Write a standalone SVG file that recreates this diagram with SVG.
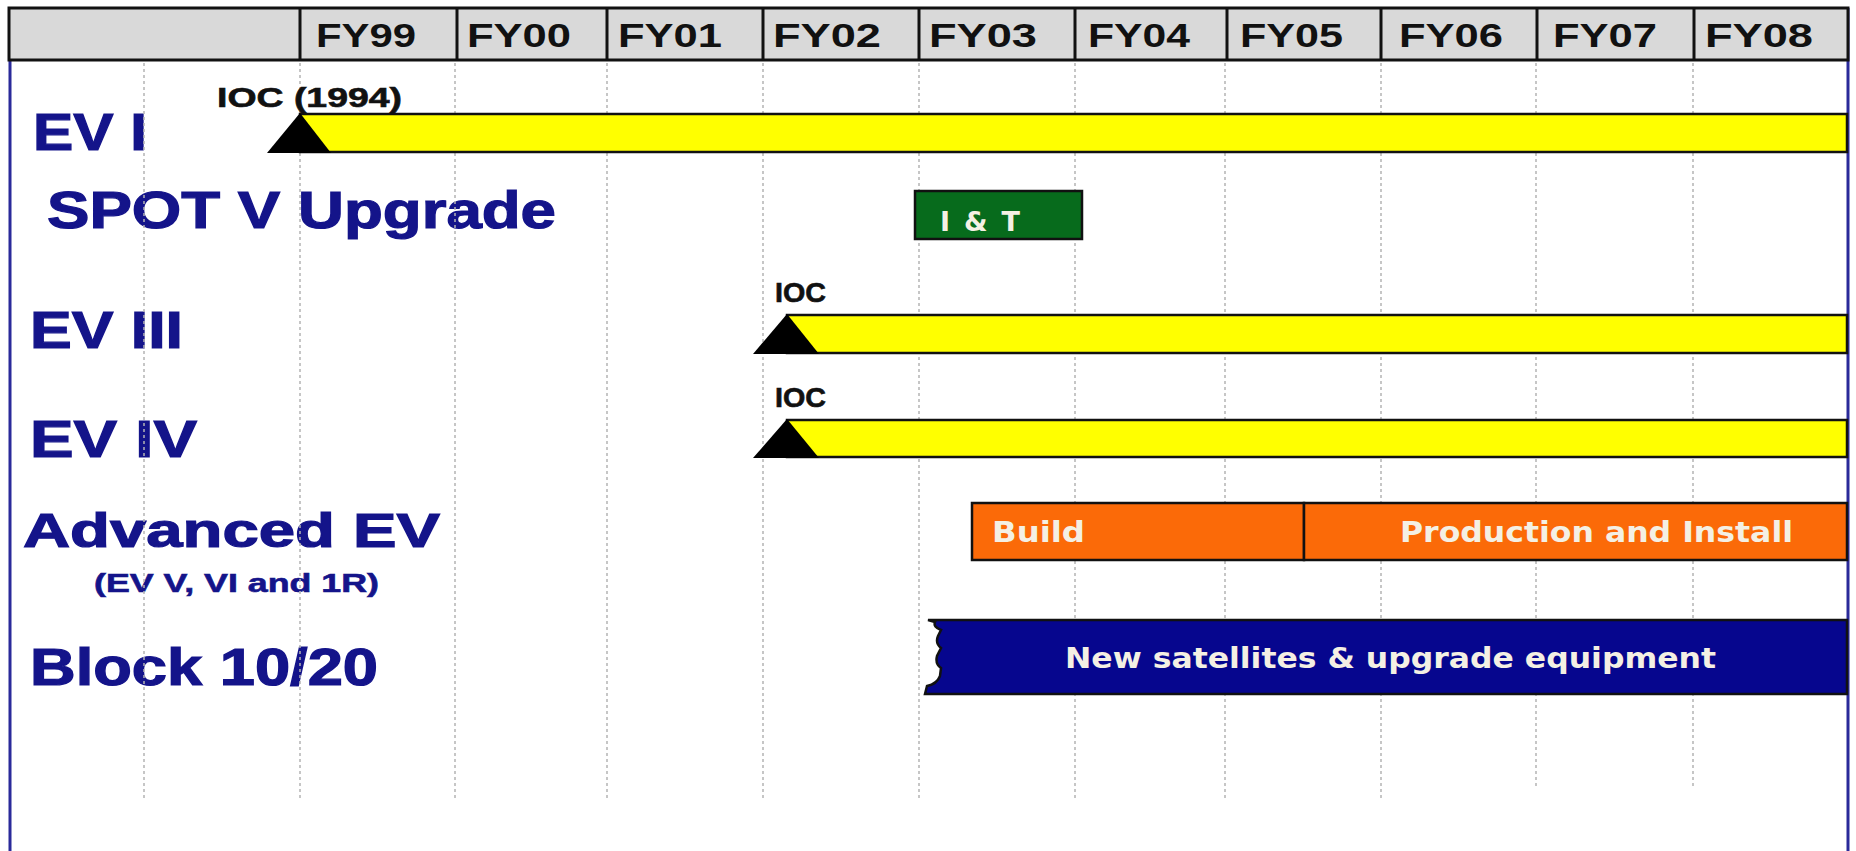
<svg xmlns="http://www.w3.org/2000/svg" width="1856" height="851" viewBox="0 0 1856 851">
<style>
.hdr{fill:#d9d9d9;stroke:#111;stroke-width:3}
.div{stroke:#111;stroke-width:3}
.fy{font-family:"Liberation Sans",Arial,sans-serif;font-weight:bold;font-size:33px;fill:#111}
.lbl{font-family:"Liberation Sans",Arial,sans-serif;font-weight:bold;fill:#14148a;stroke:#14148a;stroke-width:1.2}
.ioc{font-family:"Liberation Sans",Arial,sans-serif;font-weight:bold;font-size:27px;fill:#111;stroke:#111;stroke-width:0.6}
.grid{stroke:#b4b4b4;stroke-width:1.5;stroke-dasharray:3 3}
.ybar{fill:#ffff00;stroke:#111;stroke-width:2.5}
.tri{fill:#000}
.bt{font-family:"DejaVu Sans",Verdana,sans-serif;font-weight:bold;fill:#f4f0e4}
</style>
<rect x="0" y="0" width="1856" height="851" fill="#ffffff"/>
<!-- frame -->
<line x1="10" y1="8" x2="10" y2="851" stroke="#2a2a9a" stroke-width="3"/>
<line x1="1848" y1="8" x2="1848" y2="851" stroke="#2a2a9a" stroke-width="3"/>
<!-- header -->
<g id="header">
<rect class="hdr" x="9" y="8" width="1839" height="52"/>
<line class="div" x1="300" y1="8" x2="300" y2="60"/>
<line class="div" x1="457" y1="8" x2="457" y2="60"/>
<line class="div" x1="607" y1="8" x2="607" y2="60"/>
<line class="div" x1="763" y1="8" x2="763" y2="60"/>
<line class="div" x1="919" y1="8" x2="919" y2="60"/>
<line class="div" x1="1075" y1="8" x2="1075" y2="60"/>
<line class="div" x1="1227" y1="8" x2="1227" y2="60"/>
<line class="div" x1="1381" y1="8" x2="1381" y2="60"/>
<line class="div" x1="1537" y1="8" x2="1537" y2="60"/>
<line class="div" x1="1694" y1="8" x2="1694" y2="60"/>
<text class="fy" x="316" y="47" textLength="100" lengthAdjust="spacingAndGlyphs">FY99</text>
<text class="fy" x="467" y="47" textLength="104" lengthAdjust="spacingAndGlyphs">FY00</text>
<text class="fy" x="618" y="47" textLength="104" lengthAdjust="spacingAndGlyphs">FY01</text>
<text class="fy" x="773" y="47" textLength="108" lengthAdjust="spacingAndGlyphs">FY02</text>
<text class="fy" x="929" y="47" textLength="108" lengthAdjust="spacingAndGlyphs">FY03</text>
<text class="fy" x="1088" y="47" textLength="102" lengthAdjust="spacingAndGlyphs">FY04</text>
<text class="fy" x="1240" y="47" textLength="103" lengthAdjust="spacingAndGlyphs">FY05</text>
<text class="fy" x="1399" y="47" textLength="104" lengthAdjust="spacingAndGlyphs">FY06</text>
<text class="fy" x="1553" y="47" textLength="104" lengthAdjust="spacingAndGlyphs">FY07</text>
<text class="fy" x="1705" y="47" textLength="108" lengthAdjust="spacingAndGlyphs">FY08</text>
</g>
<!-- row labels -->
<g id="labels">
<text class="lbl" x="33" y="150" font-size="52" textLength="114" lengthAdjust="spacingAndGlyphs">EV I</text>
<text class="lbl" x="47" y="228" font-size="52" textLength="509" lengthAdjust="spacingAndGlyphs">SPOT V Upgrade</text>
<text class="lbl" x="30" y="348" font-size="51" textLength="153" lengthAdjust="spacingAndGlyphs">EV III</text>
<text class="lbl" x="30" y="457" font-size="51" textLength="167" lengthAdjust="spacingAndGlyphs">EV IV</text>
<text class="lbl" x="23" y="547" font-size="48" textLength="417" lengthAdjust="spacingAndGlyphs">Advanced EV</text>
<text class="lbl" x="94" y="592" font-size="26" style="stroke-width:0.6" textLength="285" lengthAdjust="spacingAndGlyphs">(EV V, VI and 1R)</text>
<text class="lbl" x="30" y="685" font-size="51" textLength="348" lengthAdjust="spacingAndGlyphs">Block 10/20</text>
</g>
<!-- grid -->
<g id="connectors">
<line class="grid" x1="144" y1="63" x2="144" y2="798"/>
<line class="grid" x1="300" y1="63" x2="300" y2="798"/>
<line class="grid" x1="455" y1="63" x2="455" y2="798"/>
<line class="grid" x1="607" y1="63" x2="607" y2="798"/>
<line class="grid" x1="763" y1="63" x2="763" y2="798"/>
<line class="grid" x1="919" y1="63" x2="919" y2="798"/>
<line class="grid" x1="1075" y1="63" x2="1075" y2="798"/>
<line class="grid" x1="1225" y1="63" x2="1225" y2="798"/>
<line class="grid" x1="1381" y1="63" x2="1381" y2="798"/>
<line class="grid" x1="1536" y1="63" x2="1536" y2="786"/>
<line class="grid" x1="1693" y1="63" x2="1693" y2="786"/>
</g>
<!-- nodes -->
<g id="ev1">
<text class="ioc" x="217" y="107" textLength="185" lengthAdjust="spacingAndGlyphs">IOC (1994)</text>
<rect class="ybar" x="300" y="114" width="1547" height="38"/>
<polygon class="tri" points="267,153 300,113 331,153"/>
</g>
<g id="spot5">
<rect x="915" y="191" width="167" height="48" fill="#076b1c" stroke="#111" stroke-width="2.5"/>
<text class="bt" x="940" y="231" font-size="27" fill="#e4f2e4" textLength="80" lengthAdjust="spacing">I &amp; T</text>
</g>
<g id="ev3">
<text class="ioc" x="775" y="302" textLength="51" lengthAdjust="spacingAndGlyphs">IOC</text>
<rect class="ybar" x="787" y="315" width="1060" height="38"/>
<polygon class="tri" points="753,354 787,314 819,354"/>
</g>
<g id="ev4">
<text class="ioc" x="775" y="407" textLength="51" lengthAdjust="spacingAndGlyphs">IOC</text>
<rect class="ybar" x="787" y="420" width="1060" height="37"/>
<polygon class="tri" points="753,458 787,419 819,458"/>
</g>
<g id="advanced-ev">
<rect x="972" y="503" width="332" height="57" fill="#fb6a08" stroke="#111" stroke-width="2.5"/>
<rect x="1304" y="503" width="543" height="57" fill="#fb6a08" stroke="#111" stroke-width="2.5"/>
<text class="bt" x="992" y="542" font-size="28" textLength="93" lengthAdjust="spacingAndGlyphs">Build</text>
<text class="bt" x="1400" y="542" font-size="28" textLength="393" lengthAdjust="spacingAndGlyphs">Production and Install</text>
</g>
<g id="block-10-20">
<path d="M928,620 L1847,620 L1847,694 L925,694 L927,686 Q937,684 940,676 L941,668 Q935,664 937,656 L941,648 Q935,643 938,636 L941,630 Q933,627 935,622 Z" fill="#06068e" stroke="#111" stroke-width="2.5"/>
<text class="bt" x="1065" y="668" font-size="28" textLength="651" lengthAdjust="spacingAndGlyphs">New satellites &amp; upgrade equipment</text>
</g>
</svg>
